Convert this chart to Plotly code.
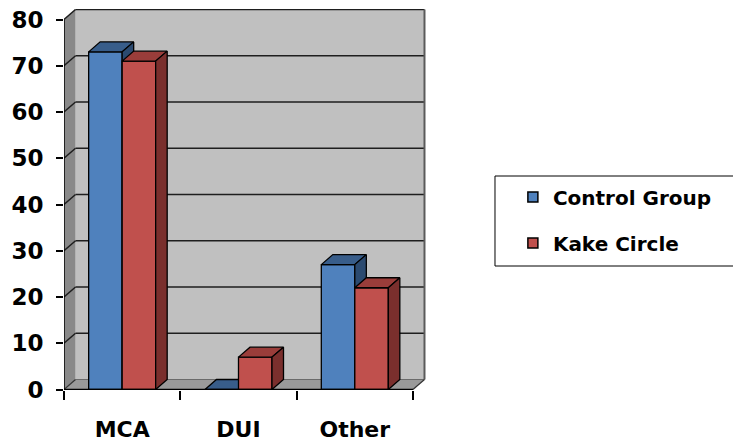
import plotly.graph_objects as go

# Survey categories and counts per group
categories = ["MCA", "DUI", "Other"]
control_group = [73, 0, 27]
kake_circle = [71, 7, 22]
y_ticks = [0, 10, 20, 30, 40, 50, 60, 70, 80]

series = [
    ("Control Group", control_group, "#4f81bd", "#385d8a", "#2b4a70"),
    ("Kake Circle", kake_circle, "#c0504d", "#9a3d3a", "#7a2f2d"),
]

# Pseudo-3D geometry (data units)
BAR_W = 0.288      # width of one bar's front face
DX = 0.099         # depth offset along x
DY = 2.16          # depth offset along y
X_LO, X_HI = -0.5, 2.5
Y_TOP = 80

FONT = "DejaVu Sans"
EDGE = dict(color="#000000", width=1.3)

fig = go.Figure()

# Bars: front, top and side faces, painted left to right within each group
for i, _ in enumerate(categories):
    for s, (name, values, front_c, top_c, side_c) in enumerate(series):
        v = values[i]
        x0 = i - BAR_W + s * BAR_W
        x1 = x0 + BAR_W
        faces = [
            ([x0, x1, x1, x0, x0], [0, 0, v, v, 0], front_c),
            ([x0, x1, x1 + DX, x0 + DX, x0], [v, v, v + DY, v + DY, v], top_c),
            ([x1, x1 + DX, x1 + DX, x1, x1], [0, DY, v + DY, v, 0], side_c),
        ]
        for fx, fy, fc in faces:
            fig.add_trace(go.Scatter(
                x=fx, y=fy, mode="lines", fill="toself", fillcolor=fc,
                line=EDGE, showlegend=False, hoverinfo="skip",
            ))

# Legend entries
for k, (name, values, front_c, top_c, side_c) in enumerate(series):
    fig.add_trace(go.Scatter(
        x=[None], y=[None], mode="markers", name=name,
        legendgroup=name,
        marker=dict(symbol="square", size=10, color=front_c,
                    line=dict(color="#000000", width=1.5)),
    ))

shapes = []
# Back wall, side wall and floor
shapes.append(dict(type="path", xref="x", yref="y", layer="below",
                   path=f"M{X_LO + DX},{DY} L{X_HI + DX},{DY} L{X_HI + DX},{Y_TOP + DY} "
                        f"L{X_LO + DX},{Y_TOP + DY} Z",
                   fillcolor="#c0c0c0", line=dict(width=0)))
shapes.append(dict(type="path", xref="x", yref="y", layer="below",
                   path=f"M{X_LO},0 L{X_LO},{Y_TOP} L{X_LO + DX},{Y_TOP + DY} "
                        f"L{X_LO + DX},{DY} Z",
                   fillcolor="#898989", line=dict(width=0)))
shapes.append(dict(type="path", xref="x", yref="y", layer="below",
                   path=f"M{X_LO},0 L{X_HI},0 L{X_HI + DX},{DY} L{X_LO + DX},{DY} Z",
                   fillcolor="#9a9a9a", line=dict(width=0)))
# Gridlines on the back wall and their continuation on the side wall
for v in y_ticks[1:]:
    shapes.append(dict(type="line", xref="x", yref="y", layer="below",
                       x0=X_LO + DX, x1=X_HI + DX, y0=v + DY, y1=v + DY,
                       line=dict(color="#1e1e1e", width=1.5)))
    shapes.append(dict(type="line", xref="x", yref="y", layer="below",
                       x0=X_LO, x1=X_LO + DX, y0=v, y1=v + DY,
                       line=dict(color="#1e1e1e", width=1.5)))
# Wall and floor edges
shapes.append(dict(type="line", xref="x", yref="y", layer="below",
                   x0=X_HI + DX, x1=X_HI + DX, y0=DY, y1=Y_TOP + DY,
                   line=dict(color="#5a5a5a", width=2)))
shapes.append(dict(type="line", xref="x", yref="y", layer="below",
                   x0=X_LO + DX, x1=X_HI + DX, y0=DY, y1=DY,
                   line=dict(color="#6a6a6a", width=1.2)))
shapes.append(dict(type="line", xref="x", yref="y", layer="below",
                   x0=X_HI, x1=X_HI + DX, y0=0, y1=DY,
                   line=dict(color="#333333", width=1.2)))
shapes.append(dict(type="line", xref="x", yref="y", layer="below",
                   x0=X_LO, x1=X_LO + DX, y0=0, y1=DY,
                   line=dict(color="#333333", width=1.2)))
# Axis lines
shapes.append(dict(type="line", xref="x", yref="y", layer="above",
                   x0=X_LO, x1=X_LO, y0=0, y1=Y_TOP,
                   line=dict(color="#000000", width=1.5)))
shapes.append(dict(type="line", xref="x", yref="y", layer="above",
                   x0=X_LO, x1=X_HI, y0=0, y1=0,
                   line=dict(color="#000000", width=1.5)))
# Legend frame
shapes.append(dict(type="rect", xref="paper", yref="paper",
                   x0=1.1906, x1=1.9, y0=(390 - 266) / 381, y1=(390 - 176) / 381,
                   line=dict(color="#000000", width=1), fillcolor="rgba(0,0,0,0)"))

fig.update_layout(
    width=733, height=443,
    margin=dict(l=64, r=307, t=9, b=53, autoexpand=False),
    paper_bgcolor="#ffffff", plot_bgcolor="#ffffff",
    font=dict(family=FONT, color="#000000", weight="bold"),
    shapes=shapes,
    showlegend=True,
    legend=dict(
        x=1.24, y=0.558, xanchor="left", yanchor="top",
        font=dict(family=FONT, size=20, color="#000000", weight="bold"),
        bgcolor="rgba(0,0,0,0)", borderwidth=0,
        tracegroupgap=17, traceorder="grouped",
    ),
    xaxis=dict(
        range=[-0.5, 2.612], showgrid=False, zeroline=False, showline=False,
        automargin=False,
        tickmode="array", tickvals=[0, 1, 2], ticktext=categories,
        ticks="", tickfont=dict(size=22, family=FONT, weight="bold"),
        ticklabelstandoff=24,
        minor=dict(tickmode="array", tickvals=[-0.5, 0.5, 1.5, 2.5],
                   ticks="outside", ticklen=9, tickwidth=1.5, tickcolor="#000000"),
        fixedrange=True,
    ),
    yaxis=dict(
        range=[-0.108, 82.27], showgrid=False, zeroline=False, showline=False,
        automargin=False,
        tickmode="array", tickvals=y_ticks,
        ticks="outside", ticklen=7, tickwidth=1.5, tickcolor="#000000",
        tickfont=dict(size=23, family=FONT, weight="bold"),
        ticklabelstandoff=8,
        fixedrange=True,
    ),
)

fig.write_html("out.html")
